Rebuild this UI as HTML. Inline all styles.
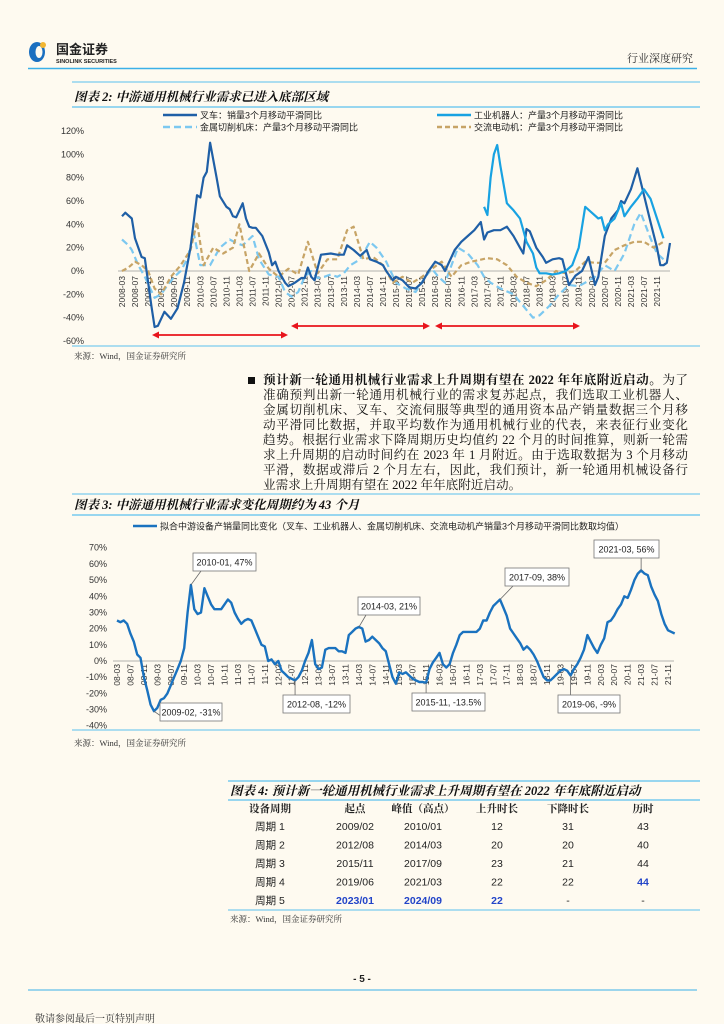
<!DOCTYPE html>
<html><head><meta charset="utf-8">
<style>
body{margin:0;background:#fefaf0;}
#page{position:relative;width:724px;height:1024px;background:#fefaf0;overflow:hidden;font-family:"Liberation Sans","Noto Sans CJK SC",sans-serif;}
svg{position:absolute;left:0;top:0;}
.pl{position:absolute;left:263px;width:425px;font-family:"Liberation Serif","Noto Serif CJK SC",serif;font-size:12.6px;line-height:15px;height:15px;text-align:justify;text-align-last:justify;white-space:nowrap;color:#111;}
.pl.last{text-align-last:left;}
</style></head>
<body>
<div id="page">
<svg id="svg" width="724" height="1024">
  <g>
    <ellipse cx="37" cy="52" rx="8" ry="10" fill="#1a6fc0"/>
    <ellipse cx="39" cy="52" rx="3.5" ry="6" fill="#fefaf0"/>
    <circle cx="43" cy="45" r="3" fill="#f2b632"/>
    <text x="56" y="54" font-size="13" font-weight="bold" fill="#222" font-family="Liberation Sans,Noto Sans CJK SC,sans-serif">国金证券</text>
    <text x="56" y="63" font-size="5.5" font-weight="bold" fill="#222">SINOLINK SECURITIES</text>
    <text x="693" y="62" font-size="11" text-anchor="end" fill="#333" font-family="Liberation Serif,Noto Serif CJK SC,serif">行业深度研究</text>
    <line x1="28" y1="68.5" x2="697" y2="68.5" stroke="#3bb0e8" stroke-width="1.5"/>
  </g>
  <line x1="72" y1="82" x2="700" y2="82" stroke="#5bc0ee" stroke-width="1"/>
  <text x="74" y="101" font-size="12.5" font-weight="bold" font-style="italic" fill="#111" font-family="Liberation Serif,Noto Serif CJK SC,serif">图表 2:  中游通用机械行业需求已进入底部区域</text>
  <line x1="72" y1="107" x2="700" y2="107" stroke="#5bc0ee" stroke-width="1.2"/>
  <g id="c1"></g>
  <line x1="72" y1="346" x2="700" y2="346" stroke="#5bc0ee" stroke-width="1"/>
  <text x="74" y="359" font-size="8.5" fill="#333" font-family="Liberation Serif,Noto Serif CJK SC,serif">来源：Wind，国金证券研究所</text>

  <rect x="248" y="377" width="7" height="7" fill="#111"/>

  <line x1="72" y1="494" x2="700" y2="494" stroke="#5bc0ee" stroke-width="1"/>
  <text x="74" y="509" font-size="12.5" font-weight="bold" font-style="italic" fill="#111" font-family="Liberation Serif,Noto Serif CJK SC,serif">图表 3:  中游通用机械行业需求变化周期约为 43 个月</text>
  <line x1="72" y1="515" x2="700" y2="515" stroke="#5bc0ee" stroke-width="1.2"/>
  <g id="c2"></g>
  <line x1="72" y1="730" x2="700" y2="730" stroke="#5bc0ee" stroke-width="1"/>
  <text x="74" y="746" font-size="8.5" fill="#333" font-family="Liberation Serif,Noto Serif CJK SC,serif">来源：Wind，国金证券研究所</text>

  <g font-family="Liberation Sans,Noto Sans CJK SC,sans-serif">
    <line x1="228" y1="781" x2="700" y2="781" stroke="#5bc0ee" stroke-width="1.2"/>
    <text x="230" y="795" font-size="12.5" font-weight="bold" font-style="italic" fill="#111" font-family="Liberation Serif,Noto Serif CJK SC,serif">图表 4:  预计新一轮通用机械行业需求上升周期有望在 2022 年年底附近启动</text>
    <line x1="228" y1="800" x2="700" y2="800" stroke="#5bc0ee" stroke-width="1.2"/>
    <g id="tbl" font-size="10.5" fill="#222" text-anchor="middle"></g>
    <line x1="228" y1="910" x2="700" y2="910" stroke="#5bc0ee" stroke-width="1"/>
    <text x="230" y="922" font-size="8.5" fill="#333" text-anchor="start" font-family="Liberation Serif,Noto Serif CJK SC,serif">来源：Wind，国金证券研究所</text>
  </g>

  <text x="362" y="982" font-size="10" font-weight="bold" text-anchor="middle" fill="#222">- 5 -</text>
  <line x1="28" y1="990" x2="697" y2="990" stroke="#3bb0e8" stroke-width="1"/>
  <text x="35" y="1022" font-size="10" fill="#333" font-family="Liberation Serif,Noto Serif CJK SC,serif">敬请参阅最后一页特别声明</text>
</svg>

<div>
<div class="pl" style="top:373px"><b>预计新一轮通用机械行业需求上升周期有望在 2022 年年底附近启动。</b>为了</div>
<div class="pl" style="top:388px">准确预判出新一轮通用机械行业的需求复苏起点，我们选取工业机器人、</div>
<div class="pl" style="top:403px">金属切削机床、叉车、交流伺服等典型的通用资本品产销量数据三个月移</div>
<div class="pl" style="top:418px">动平滑同比数据，并取平均数作为通用机械行业的代表，来表征行业变化</div>
<div class="pl" style="top:433px">趋势。根据行业需求下降周期历史均值约 22 个月的时间推算，则新一轮需</div>
<div class="pl" style="top:448px">求上升周期的启动时间约在 2023 年 1 月附近。由于选取数据为 3 个月移动</div>
<div class="pl" style="top:463px">平滑，数据或滞后 2 个月左右，因此，我们预计，新一轮通用机械设备行</div>
<div class="pl last" style="top:478px">业需求上升周期有望在 2022 年年底附近启动。</div>
</div>
</div>

<script>
const forkDates = ["2008-03","2008-04","2008-06","2008-07","2008-09","2008-10","2008-12","2009-01","2009-02","2009-04","2009-06","2009-08","2009-10","2009-12","2010-02","2010-03","2010-04","2010-05","2010-06","2010-08","2010-09","2010-11","2010-12","2011-01","2011-02","2011-04","2011-05","2011-06","2011-07","2011-08","2011-10","2011-12","2012-01","2012-02","2012-03","2012-05","2012-06","2012-08","2012-10","2012-11","2012-12","2013-01","2013-02","2013-04","2013-07","2013-09","2013-11","2013-12","2014-02","2014-04","2014-06","2014-07","2014-09","2014-11","2014-12","2015-02","2015-03","2015-05","2015-07","2015-09","2015-11","2016-01","2016-03","2016-05","2016-06","2016-09","2016-11","2017-01","2017-03","2017-05","2017-06","2017-07","2017-09","2017-11","2018-01","2018-03","2018-05","2018-06","2018-07","2018-08","2018-10","2018-12","2019-01","2019-03","2019-05","2019-06","2019-08","2019-10","2019-12","2020-02","2020-04","2020-05","2020-07","2020-09","2020-11","2020-12","2021-01","2021-03","2021-05","2021-07","2021-09","2021-11","2021-12","2022-01","2022-02","2022-03"];
const forkVals = [47,50,45,28,12,11,-30,-48,-47,-35,-41,-32,-10,20,65,63,80,85,110,80,64,55,53,47,46,58,45,38,37,37,30,16,5,8,0,-10,-13,-10,-6,-6,3,-5,-8,14,15,14,14,22,18,13,18,10,8,5,0,-8,-5,-8,-14,-15,-10,0,8,5,0,18,25,30,35,42,27,33,35,35,38,30,20,15,36,34,20,12,7,10,11,10,-12,-4,0,12,-12,-5,30,45,52,60,58,70,88,65,42,20,5,5,7,24];
const robotDates = ["2017-06","2017-07","2017-08","2017-09","2017-10","2017-11","2018-01","2018-03","2018-05","2018-06","2018-07","2018-09","2018-10","2018-11","2019-01","2019-03","2019-05","2019-07","2019-09","2019-11","2020-01","2020-03","2020-05","2020-06","2020-07","2020-08","2020-10","2020-12","2021-01","2021-03","2021-05","2021-07","2021-09","2021-11","2022-01"];
const robotVals = [55,48,80,100,108,90,58,52,45,35,25,15,3,-2,-2,-3,-2,0,5,20,55,50,45,46,35,40,45,58,47,55,62,70,62,45,28];
const toolDates = ["2008-03","2008-05","2008-06","2008-08","2008-10","2009-01","2009-03","2009-05","2009-07","2009-09","2009-11","2010-01","2010-03","2010-06","2010-09","2010-12","2011-02","2011-04","2011-07","2011-09","2011-12","2012-03","2012-05","2012-07","2012-09","2012-11","2013-01","2013-03","2013-05","2013-07","2013-09","2013-11","2014-01","2014-04","2014-07","2014-09","2014-12","2015-03","2015-06","2015-09","2015-12","2016-02","2016-04","2016-06","2016-08","2016-10","2017-01","2017-04","2017-06","2017-08","2017-11","2018-03","2018-06","2018-09","2018-11","2019-02","2019-05","2019-08","2019-11","2020-01","2020-04","2020-07","2020-10","2021-01","2021-04","2021-06","2021-09","2021-11","2022-01"];
const toolVals = [27,22,18,5,-5,-23,-20,-12,-5,0,10,32,5,5,20,27,24,22,30,10,-3,-5,-18,-22,-18,-5,0,-6,-5,-3,-5,-2,5,10,25,20,8,-10,-15,-18,-5,2,-5,-10,5,20,15,5,-5,-10,-15,-20,-30,-40,-38,-30,-20,-12,-13,-10,-5,5,0,15,40,50,28,15,10];
const motorDates = ["2008-03","2008-05","2008-07","2008-09","2008-11","2009-01","2009-03","2009-06","2009-09","2009-12","2010-02","2010-04","2010-07","2010-10","2011-01","2011-03","2011-06","2011-09","2011-12","2012-03","2012-06","2012-09","2012-12","2013-03","2013-06","2013-09","2013-12","2014-02","2014-05","2014-08","2014-11","2015-02","2015-05","2015-08","2015-11","2016-02","2016-05","2016-08","2016-11","2017-02","2017-07","2017-10","2018-01","2018-04","2018-07","2018-10","2019-01","2019-04","2019-07","2019-10","2020-01","2020-04","2020-07","2020-10","2021-01","2021-04","2021-07","2021-10","2022-01"];
const motorVals = [0,3,8,5,0,-15,-20,-5,5,18,42,5,20,15,20,40,0,15,2,-5,2,-3,25,-2,10,10,35,38,10,12,5,-10,-5,-10,-5,2,8,-5,5,8,11,10,5,-5,-10,-13,-8,0,-2,0,8,7,7,18,22,25,25,20,25];
const c1Ticks = [120,100,80,60,40,20,0,-20,-40,-60];

const avgStart = "2008-03";
const avgVals = [25,24,25,23,17,12,4,2,-10,-18,-27,-31,-29,-24,-23,-20,-15,-10,-5,0,8,30,47,32,29,30,45,40,35,32,32,32,35,38,36,30,26,23,25,26,25,20,15,10,9,0,1,-2,0,-6,-8,-10,-11,-12,-10,-6,0,5,13,-2,-5,-4,7,8,8,8,6,6,5,16,18,20,21,20,12,13,15,13,11,8,6,-2,-10,-14,-7,-8,-7,-9,-11,-12,-13,-13,-13.5,-5,-1,2,5,-2,-4,-2,5,10,16,18,18,18,18,18,20,25,25,30,34,36,38,33,28,20,17,14,11,7,9,7,4,0,-5,-10,-12,-12,-10,-8,-6,-5,-6,-9,-5,-2,2,7,16,12,8,5,10,14,24,25,28,32,35,40,39,44,50,54,56,54,53,46,41,37,29,23,19,18,17];
const c2Ticks = [70,60,50,40,30,20,10,0,-10,-20,-30,-40];
const annLabels = ["2010-01, 47%","2009-02, -31%","2012-08, -12%","2014-03, 21%","2015-11, -13.5%","2017-09, 38%","2019-06, -9%","2021-03, 56%"];
const annDates = ["2010-01","2009-02","2012-08","2014-03","2015-11","2017-09","2019-06","2021-03"];
const annVals = [47,-31,-12,21,-13.5,38,-9,56];

const tblHeader = ["设备周期","起点","峰值（高点）","上升时长","下降时长","历时"];
const tblRows = [["周期 1","2009/02","2010/01","12","31","43"],["周期 2","2012/08","2014/03","20","20","40"],["周期 3","2015/11","2017/09","23","21","44"],["周期 4","2019/06","2021/03","22","22","44"],["周期 5","2023/01","2024/09","22","-","-"]];

const NS="http://www.w3.org/2000/svg";
function mk(parent,tag,attrs,text){const e=document.createElementNS(NS,tag);for(const k in attrs)e.setAttribute(k,attrs[k]);if(text!==undefined)e.textContent=text;parent.appendChild(e);return e;}
function mIdx(d){const p=d.split("-");let y=+p[0];if(y<100)y+=2000;return (y-2008)*12+(+p[1]-3);}

(function(){
  const g=document.getElementById('c1');
  const X=m=>122+m*(657-122)/164, Y=v=>271-v*(210/180);
  c1Ticks.forEach(t=>{
    const tx=mk(g,'text',{x:84,y:Y(t)+3,'font-size':9,'text-anchor':'end',fill:'#333'},t+'%');
    
    
  });
  mk(g,'line',{x1:118,y1:Y(0),x2:670,y2:Y(0),stroke:'#999','stroke-width':0.8});
  for(let m=0;m<=164;m+=4){
    const yy=2008+Math.floor((m+2)/12), mo=((m+2)%12)+1;
    const lab=yy+'-'+String(mo).padStart(2,'0');
    const x=X(m);
    const tx=mk(g,'text',{x:0,y:0,'font-size':8.5,'text-anchor':'end',fill:'#333',transform:`translate(${x+3},${Y(0)+5}) rotate(-90)`},lab);
    
    
  }
  function series(dates,vals,color,w,dash,name){
    const pts=dates.map((d,i)=>X(mIdx(d)).toFixed(1)+','+Y(vals[i]).toFixed(1)).join(' ');
    const a={points:pts,fill:'none',stroke:color,'stroke-width':w,'stroke-linejoin':'round'};
    if(dash)a['stroke-dasharray']=dash;
    const p=mk(g,'polyline',a);
    
    
  }
  series(toolDates,toolVals,'#7cc8f0',2.2,'7,4','machine-tool-series');
  series(motorDates,motorVals,'#c7a466',2.2,'5,3','ac-motor-series');
  series(forkDates,forkVals,'#1f5fa6',2.2,null,'forklift-series');
  series(robotDates,robotVals,'#18a2e2',2.2,null,'robot-series');
  const leg=[[163,115,'#1f5fa6',null,'叉车：销量3个月移动平滑同比'],[437,115,'#18a2e2',null,'工业机器人：产量3个月移动平滑同比'],[163,127,'#7cc8f0','7,4','金属切削机床：产量3个月移动平滑同比'],[437,127,'#c7a466','5,3','交流电动机：产量3个月移动平滑同比']];
  leg.forEach(l=>{
    const a={x1:l[0],y1:l[1],x2:l[0]+34,y2:l[1],stroke:l[2],'stroke-width':2.5};
    if(l[3])a['stroke-dasharray']=l[3];
    const ln=mk(g,'line',a);
    
    
    const t=mk(g,'text',{x:l[0]+37,y:l[1]+3.5,'font-size':9,fill:'#222'},l[4]);
    
    
  });
  [[152,288,335],[291,430,326],[435,580,326]].forEach(a=>{
    const gg=mk(g,'g',{});
    
    
    mk(gg,'line',{x1:a[0]+4,y1:a[2],x2:a[1]-4,y2:a[2],stroke:'#e8141c','stroke-width':1.8});
    mk(gg,'polygon',{points:`${a[0]},${a[2]} ${a[0]+7},${a[2]-3.5} ${a[0]+7},${a[2]+3.5}`,fill:'#e8141c'});
    mk(gg,'polygon',{points:`${a[1]},${a[2]} ${a[1]-7},${a[2]-3.5} ${a[1]-7},${a[2]+3.5}`,fill:'#e8141c'});
  });
})();

(function(){
  const g=document.getElementById('c2');
  const X=m=>117+m*(668-117)/164, Y=v=>661-v*(178/110);
  c2Ticks.forEach(t=>{
    const tx=mk(g,'text',{x:107,y:Y(t)+3,'font-size':9,'text-anchor':'end',fill:'#333'},t+'%');
    
    
  });
  mk(g,'line',{x1:113,y1:Y(0),x2:674,y2:Y(0),stroke:'#999','stroke-width':0.8});
  for(let m=0;m<=164;m+=4){
    const yy=8+Math.floor((m+2)/12), mo=((m+2)%12)+1;
    const lab=String(yy).padStart(2,'0')+'-'+String(mo).padStart(2,'0');
    const x=X(m);
    const tx=mk(g,'text',{x:0,y:0,'font-size':8.5,'text-anchor':'end',fill:'#333',transform:`translate(${x+3},${Y(0)+3}) rotate(-90)`},lab);
    
    
  }
  const s=mIdx(avgStart);
  const pts=avgVals.map((v,i)=>X(s+i).toFixed(1)+','+Y(v).toFixed(1)).join(' ');
  const p=mk(g,'polyline',{points:pts,fill:'none',stroke:'#1a72bf','stroke-width':2.4,'stroke-linejoin':'round'});
  
  
  const ll=mk(g,'line',{x1:133,y1:526,x2:157,y2:526,stroke:'#1a72bf','stroke-width':2.5});
  
  
  const lt=mk(g,'text',{x:160,y:529.5,'font-size':9,fill:'#222'},'拟合中游设备产销量同比变化（叉车、工业机器人、金属切削机床、交流电动机产销量3个月移动平滑同比数取均值）');
  
  
  const boxes=[[193,553,63],[160,703,62],[283,695,67],[358,597,62],[412,693,73],[505,568,64],[558,695,62],[594,540,65]];
  annLabels.forEach((lab,i)=>{
    const b=boxes[i];
    const px=X(mIdx(annDates[i])), py=Y(annVals[i]);
    const gg=mk(g,'g',{});
    
    
    const bx=b[0]+b[2]/2, by=(py<b[1])?b[1]:b[1]+18;
    mk(gg,'line',{x1:px,y1:py,x2:Math.min(Math.max(px,b[0]+8),b[0]+b[2]-8),y2:by,stroke:'#666','stroke-width':0.8});
    mk(gg,'rect',{x:b[0],y:b[1],width:b[2],height:18,fill:'#fff',stroke:'#777','stroke-width':0.8});
    mk(gg,'text',{x:bx,y:b[1]+12.5,'font-size':9,'text-anchor':'middle',fill:'#222'},lab);
  });
})();

(function(){
  const g=document.getElementById('tbl');
  const cx=[270,355,423,497,568,643];
  tblHeader.forEach((h,i)=>{
    const t=mk(g,'text',{x:cx[i],y:812,'font-weight':'bold','font-family':'Liberation Serif,Noto Serif CJK SC,serif'},h);
    
    
  });
  tblRows.forEach((r,ri)=>{
    r.forEach((c,ci)=>{
      const blue=(ri===4&&ci>=1&&ci<=3)||(ri===3&&ci===5);
      const a={x:cx[ci],y:830+ri*18.5};
      if(blue){a.fill='#2244c8';a['font-weight']='bold';}
      const t=mk(g,'text',a,c);
      
      
    });
  });
})();
</script>
</body></html>
